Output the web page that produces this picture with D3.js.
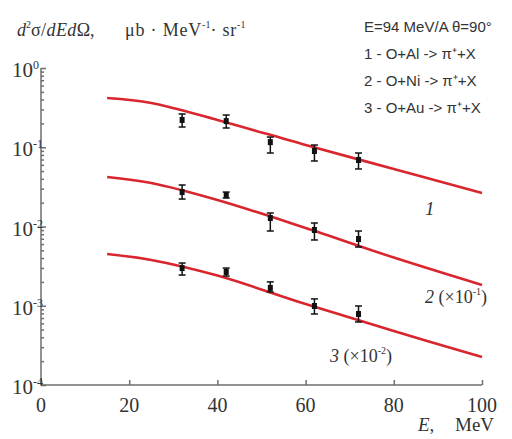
<!DOCTYPE html>
<html lang="en">
<head>
<meta charset="UTF-8">
<title>pi+ spectra</title>
<script src="https://d3js.org/d3.v7.min.js"></script>
<style>
  body { margin: 0; background: #fff; }
  svg { display: block; }
  .serif { font-family: "Liberation Serif", "DejaVu Serif", serif; fill: #333; }
  .sans { font-family: "Liberation Sans", Arial, sans-serif; fill: #333; }
</style>
</head>
<body>
<svg width="512" height="439"></svg>
<script>
// theory curves, E in MeV
const curveE = [15, 25, 40, 60, 80, 100];
const curve1 = [0.418, 0.362, 0.2207, 0.1067, 0.0532, 0.0265];
const curve2 = [0.0421, 0.0354, 0.0216, 0.00957, 0.00406, 0.00183];
const curve3 = [0.0045, 0.00378, 0.00240, 0.00105, 0.00048, 0.000226];

// measured points
const pointE = [32, 42, 52, 62, 72];
const data1 = [0.221, 0.214, 0.116, 0.0897, 0.069];
const hi1 = [0.263, 0.255, 0.1346, 0.1067, 0.0846];
const lo1 = [0.180, 0.175, 0.0846, 0.0671, 0.0532];
const data2 = [0.0272, 0.0249, 0.0128, 0.00903, 0.00695];
const hi2 = [0.0334, 0.0272, 0.0148, 0.01107, 0.00877];
const lo2 = [0.0222, 0.0229, 0.00877, 0.00676, 0.00551];
const data3 = [0.00299, 0.00267, 0.00168, 0.000993, 0.000787];
const hi3 = [0.00346, 0.00299, 0.0020, 0.00122, 0.000993];
const lo3 = [0.00244, 0.00237, 0.00149, 0.000787, 0.000624];

const xTicks = [0, 20, 40, 60, 80, 100];
const yDecades = [0, -1, -2, -3, -4];
const legendLines = ['E=94 MeV/A \u03b8=90\u00b0', '1 - O+Al -> \u03c0\u207a+X', '2 - O+Ni -> \u03c0\u207a+X', '3 - O+Au -> \u03c0\u207a+X'];

const svg = d3.select('svg');
const x = d3.scaleLinear().domain([0, 100]).range([41, 482]);
const y = d3.scaleLog().domain([1e-4, 1]).range([385, 68]);

const axisColor = '#6e6e6e';

// y axis with minor ticks
const minor = [];
for (let k = -4; k < 0; k++) {
    for (let m = 2; m <= 9; m++) minor.push(m * Math.pow(10, k));
}
const majors = yDecades.map(k => Math.pow(10, k));

const yAxis = d3.axisRight(y).tickValues(majors.concat(minor)).tickSize(3).tickFormat('');
const yG = svg.append('g').attr('transform', `translate(${x(0)},0)`).call(yAxis);
yG.selectAll('.tick line').attr('x2', d => majors.includes(d) ? 5 : 3);
yG.select('.domain').attr('d', `M0,${y(1e-4)}V${y(1)}`);
yG.selectAll('line, path').attr('stroke', axisColor).attr('stroke-width', 1.5);

const xAxis = d3.axisTop(x).tickValues(xTicks).tickSize(5).tickFormat('');
const xG = svg.append('g').attr('transform', `translate(0,${y(1e-4)})`).call(xAxis);
xG.select('.domain').attr('d', `M${x(0)},0H${x(100)}`);
xG.selectAll('line, path').attr('stroke', axisColor).attr('stroke-width', 1.5);

// tick labels
svg.selectAll('text.xl').data(xTicks).enter().append('text')
    .attr('class', 'serif xl')
    .attr('x', d => x(d)).attr('y', y(1e-4) + 27)
    .attr('text-anchor', 'middle').attr('font-size', 20)
    .text(d => d);

const yl = svg.selectAll('g.yl').data(yDecades).enter().append('g').attr('class', 'yl');
yl.append('text').attr('class', 'serif')
    .attr('x', 33).attr('y', d => y(Math.pow(10, d)) + 9)
    .attr('text-anchor', 'end').attr('font-size', 21).text('10');
yl.append('text').attr('class', 'serif')
    .attr('x', 33).attr('y', d => y(Math.pow(10, d)) + 1)
    .attr('font-size', 12).text(d => d === 0 ? '0' : '-' + (-d));

// axis titles
const yt = svg.append('text').attr('class', 'serif').attr('x', 17).attr('y', 36).attr('font-size', 18);
yt.append('tspan').attr('font-style', 'italic').text('d');
yt.append('tspan').attr('font-size', 10).attr('dy', -8).text('2');
yt.append('tspan').attr('dy', 8).attr('letter-spacing', 0.4).text('\u03c3/');
yt.append('tspan').attr('font-style', 'italic').attr('letter-spacing', 0.4).text('dEd');
yt.append('tspan').text('\u03a9,');
yt.append('tspan').attr('x', 125).attr('letter-spacing', 0.8).text('\u03bcb \u00b7 MeV');
yt.append('tspan').attr('font-size', 10).attr('dy', -8).text('-1');
yt.append('tspan').attr('dy', 8).attr('letter-spacing', 0.8).text('\u00b7 sr');
yt.append('tspan').attr('font-size', 10).attr('dy', -8).text('-1');

const xt = svg.append('text').attr('class', 'serif').attr('y', 431).attr('font-size', 19);
xt.append('tspan').attr('x', 418).attr('font-style', 'italic').text('E');
xt.append('tspan').text(',');
xt.append('tspan').attr('x', 455).text('MeV');

// legend
svg.selectAll('text.lg').data(legendLines).enter().append('text')
    .attr('class', 'sans lg')
    .attr('x', 364).attr('y', (d, i) => 32 + i * 27)
    .attr('font-size', 15)
    .text(d => d);

// curves
const line = d3.line().x((d, i) => x(curveE[i])).y(d => y(d)).curve(d3.curveCatmullRom);
[curve1, curve2, curve3].forEach(c => {
    svg.append('path').attr('d', line(c))
        .attr('fill', 'none').attr('stroke', '#d9262e').attr('stroke-width', 2.6);
});

// data points with error bars
const sets = [[data1, lo1, hi1], [data2, lo2, hi2], [data3, lo3, hi3]];
sets.forEach(([v, lo, hi]) => {
    const g = svg.append('g');
    pointE.forEach((e, i) => {
        const cx = x(e);
        g.append('line').attr('x1', cx).attr('x2', cx).attr('y1', y(lo[i])).attr('y2', y(hi[i]))
            .attr('stroke', '#111').attr('stroke-width', 1.5);
        [lo[i], hi[i]].forEach(b => {
            g.append('line').attr('x1', cx - 3.5).attr('x2', cx + 3.5).attr('y1', y(b)).attr('y2', y(b))
                .attr('stroke', '#111').attr('stroke-width', 1.5);
        });
        g.append('rect').attr('x', cx - 2.5).attr('y', y(v[i]) - 3).attr('width', 5).attr('height', 6)
            .attr('fill', '#111');
    });
});

// curve labels
svg.append('text').attr('class', 'serif').attr('x', 425).attr('y', 215)
    .attr('font-size', 19).attr('font-style', 'italic').text('1');

const l2 = svg.append('text').attr('class', 'serif').attr('x', 425).attr('y', 303).attr('font-size', 18);
l2.append('tspan').attr('font-style', 'italic').text('2');
l2.append('tspan').text(' (\u00d710');
l2.append('tspan').attr('font-size', 10).attr('dy', -8).text('-1');
l2.append('tspan').attr('dy', 8).text(')');

const l3 = svg.append('text').attr('class', 'serif').attr('x', 330).attr('y', 362).attr('font-size', 18);
l3.append('tspan').attr('font-style', 'italic').text('3');
l3.append('tspan').text(' (\u00d710');
l3.append('tspan').attr('font-size', 10).attr('dy', -8).text('-2');
l3.append('tspan').attr('dy', 8).text(')');
</script>
</body>
</html>
